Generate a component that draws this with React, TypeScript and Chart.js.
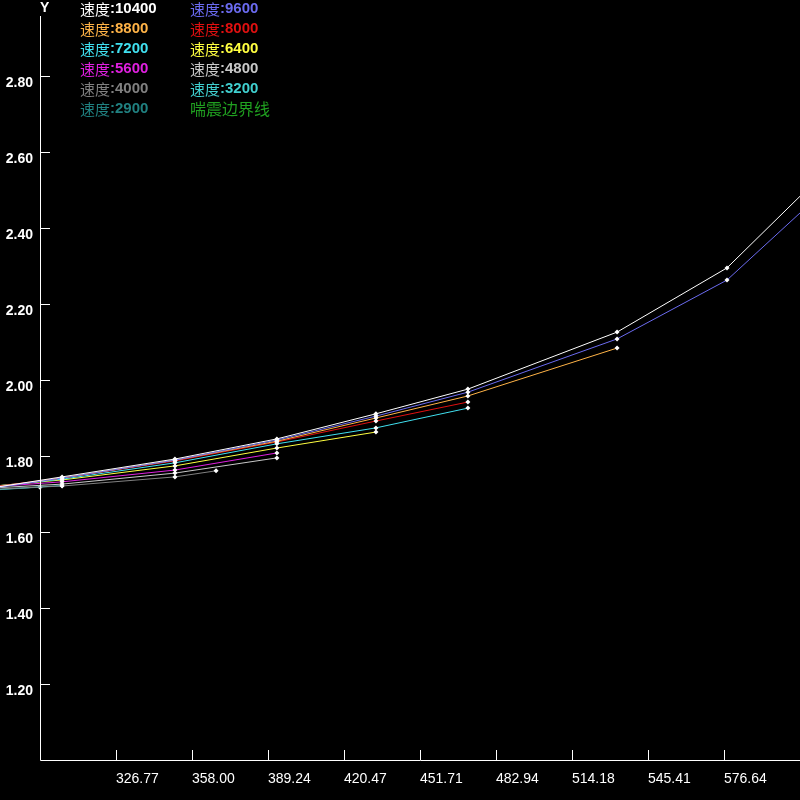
import React, { useEffect, useRef } from "react";
import { Chart, registerables } from "chart.js";

Chart.register(...registerables);

// ---- data ----
const SPEED_LABELS = ["速度:10400", "速度:9600", "速度:8800", "速度:8000", "速度:7200", "速度:6400", "速度:5600", "速度:4800", "速度:4000", "速度:3200", "速度:2900", "喘震边界线"];
const SERIES_COLORS = ["#ffffff", "#6b6bf0", "#ffb347", "#e01010", "#40e0f0", "#ffff40", "#e020e0", "#c8c8c8", "#808080", "#40d0d0", "#208080", "#20a020"];

const FLOW_10400 = [262.6, 304.6, 351.0, 392.9, 433.6, 471.4, 532.7, 577.9, 623.1];
const PR_10400 = [1.703, 1.745, 1.792, 1.845, 1.911, 1.976, 2.126, 2.295, 2.579];
const FLOW_9600 = [262.6, 304.6, 351.0, 392.9, 433.6, 471.4, 532.7, 577.9, 623.1];
const PR_9600 = [1.703, 1.742, 1.789, 1.842, 1.905, 1.968, 2.108, 2.263, 2.529];
const FLOW_8800 = [262.6, 304.6, 351.0, 392.9, 433.6, 471.4, 532.7];
const PR_8800 = [1.705, 1.742, 1.789, 1.839, 1.900, 1.958, 2.084];
const FLOW_8000 = [262.6, 304.6, 351.0, 392.9, 433.6, 471.4];
const PR_8000 = [1.708, 1.742, 1.787, 1.837, 1.892, 1.942];
const FLOW_7200 = [262.6, 304.6, 351.0, 392.9, 433.6, 471.4];
const PR_7200 = [1.711, 1.739, 1.782, 1.832, 1.874, 1.926];
const FLOW_6400 = [262.6, 304.6, 351.0, 392.9, 433.6];
const PR_6400 = [1.713, 1.737, 1.774, 1.821, 1.863];
const FLOW_5600 = [262.6, 304.6, 351.0, 392.9];
const PR_5600 = [1.713, 1.732, 1.763, 1.808];
const FLOW_4800 = [262.6, 304.6, 351.0, 392.9];
const PR_4800 = [1.711, 1.726, 1.755, 1.795];
const FLOW_4000 = [262.6, 304.6, 351.0, 367.9];
const PR_4000 = [1.708, 1.721, 1.745, 1.761];
const FLOW_3200 = [262.6, 304.6];
const PR_3200 = [1.706, 1.722];
const FLOW_2900 = [262.6, 295.5];
const PR_2900 = [1.705, 1.718];
const FLOW_SURGE = [262.6, 262.6];
const PR_SURGE = [1.703, 1.713];

const X_TICKS = [326.77, 358.0, 389.24, 420.47, 451.71, 482.94, 514.18, 545.41, 576.64];
const Y_TICKS = [1.2, 1.4, 1.6, 1.8, 2.0, 2.2, 2.4, 2.6, 2.8];
const X_MIN = 295.53;
const X_MAX = 607.9;
const Y_MIN = 1.0;
const Y_MAX = 3.0;

const FLOWS = [FLOW_10400, FLOW_9600, FLOW_8800, FLOW_8000, FLOW_7200, FLOW_6400, FLOW_5600, FLOW_4800, FLOW_4000, FLOW_3200, FLOW_2900, FLOW_SURGE];
const PRS = [PR_10400, PR_9600, PR_8800, PR_8000, PR_7200, PR_6400, PR_5600, PR_4800, PR_4000, PR_3200, PR_2900, PR_SURGE];

const decorPlugin = {
  id: "decor",
  afterDraw(chart: any) {
    const ctx = chart.ctx;
    const xs = chart.scales.x;
    const ys = chart.scales.y;
    const left = chart.chartArea.left;
    const bottom = chart.chartArea.bottom;
    ctx.save();
    ctx.strokeStyle = "#ffffff";
    ctx.lineWidth = 1;
    ctx.beginPath();
    ctx.moveTo(left + 0.5, 16);
    ctx.lineTo(left + 0.5, bottom + 0.5);
    ctx.lineTo(800, bottom + 0.5);
    for (const t of ys.ticks) {
      const py = Math.round(ys.getPixelForValue(t.value)) + 0.5;
      ctx.moveTo(left, py);
      ctx.lineTo(left + 10, py);
    }
    for (const t of xs.ticks) {
      const px = Math.round(xs.getPixelForValue(t.value)) + 0.5;
      ctx.moveTo(px, bottom - 10);
      ctx.lineTo(px, bottom);
    }
    ctx.stroke();

    ctx.fillStyle = "#ffffff";
    ctx.font = "bold 14px 'Liberation Sans'";
    ctx.textBaseline = "middle";
    ctx.textAlign = "left";
    ctx.fillText("Y", 40, 8);

    // legend
    SPEED_LABELS.forEach((lab, i) => {
      const col = i % 2;
      const row = Math.floor(i / 2);
      const x = col === 0 ? 80 : 190;
      const y = 9 + row * 20;
      ctx.fillStyle = SERIES_COLORS[i];
      const idx = lab.indexOf(":");
      if (idx >= 0) {
        const cjk = lab.slice(0, idx);
        const rest = lab.slice(idx);
        ctx.font = "15px 'Noto Sans CJK SC'";
        ctx.fillText(cjk, x, y);
        const w = ctx.measureText(cjk).width;
        ctx.font = "bold 15px 'Liberation Sans'";
        ctx.fillText(rest, x + w, y);
      } else {
        ctx.font = "16px 'Noto Sans CJK SC'";
        ctx.fillText(lab, x, y);
      }
    });
    ctx.restore();
  },
};

export default function App() {
  const ref = useRef<HTMLCanvasElement | null>(null);
  useEffect(() => {
    if (!ref.current) return;
    const datasets = SPEED_LABELS.map((lab, i) => {
      const isSurge = i === SPEED_LABELS.length - 1;
      return {
        label: lab,
        data: FLOWS[i].map((f, j) => ({ x: f, y: PRS[i][j] })),
        borderColor: SERIES_COLORS[i],
        backgroundColor: SERIES_COLORS[i],
        borderWidth: 1,
        tension: 0,
        clip: false as any,
        pointStyle: "rectRot",
        pointRadius: isSurge ? 0 : 2.5,
        pointBackgroundColor: "#ffffff",
        pointBorderColor: "#ffffff",
        pointBorderWidth: 0,
      };
    });
    const chart = new Chart(ref.current, {
      type: "line",
      data: { datasets },
      options: {
        animation: false,
        responsive: false,
        layout: { padding: 0, autoPadding: false } as any,
        plugins: { legend: { display: false }, tooltip: { enabled: false } },
        scales: {
          x: {
            type: "linear",
            min: X_MIN,
            max: X_MAX,
            afterFit: (s: any) => { s.height = 40; s.paddingLeft = 0; s.paddingRight = 0; },
            afterBuildTicks: (s: any) => { s.ticks = X_TICKS.map((v) => ({ value: v })); },
            grid: { display: false, drawTicks: false },
            border: { display: false },
            ticks: {
              color: "#ffffff",
              font: { family: "Liberation Sans", size: 14 },
              align: "start",
              padding: 11,
              maxRotation: 0,
              autoSkip: false,
              callback: (v: any) => Number(v).toFixed(2),
            },
          },
          y: {
            type: "linear",
            min: Y_MIN,
            max: Y_MAX,
            afterFit: (s: any) => { s.width = 40; s.paddingTop = 0; s.paddingBottom = 0; },
            afterBuildTicks: (s: any) => { s.ticks = Y_TICKS.map((v) => ({ value: v })); },
            grid: { display: false, drawTicks: false },
            border: { display: false },
            ticks: {
              color: "#ffffff",
              font: { family: "Liberation Sans", size: 14, weight: "bold" },
              padding: 7,
              labelOffset: 7,
              autoSkip: false,
              callback: (v: any) => Number(v).toFixed(2),
            },
          },
        },
      } as any,
      plugins: [decorPlugin],
    });
    return () => chart.destroy();
  }, []);
  return (
    <div style={{ position: "absolute", left: 0, top: 0, width: 800, height: 800, background: "#000" }}>
      <canvas ref={ref} width={800} height={800} style={{ display: "block" }} />
    </div>
  );
}
